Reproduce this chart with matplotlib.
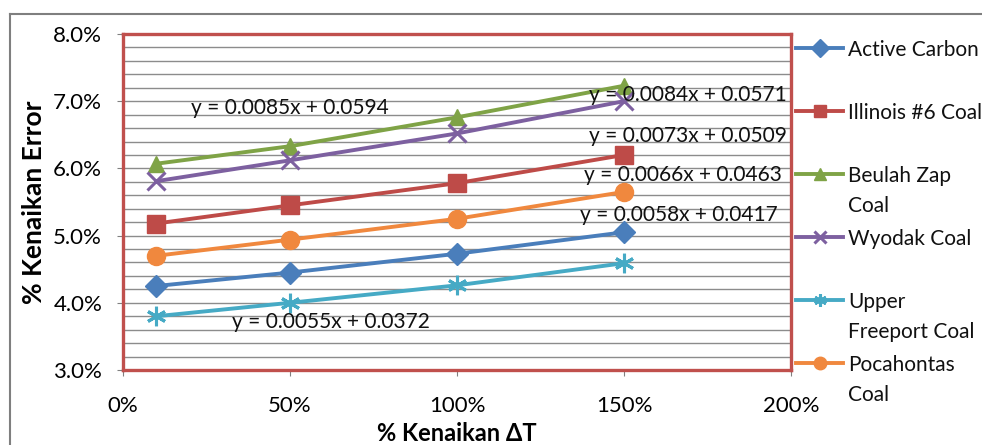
import matplotlib
matplotlib.use('Agg')
import matplotlib.pyplot as plt
import matplotlib.ticker as ticker
from matplotlib.lines import Line2D

plt.rcParams['font.family'] = ['Lato', 'DejaVu Sans']

# kenaikan delta T (fraction) and kenaikan error (fraction) per sample
dT = [0.10, 0.50, 1.00, 1.50]
names = ['Active Carbon', 'Illinois #6 Coal', 'Beulah Zap\nCoal', 'Wyodak Coal',
         'Upper\nFreeport Coal', 'Pocahontas\nCoal']
active_carbon = [0.0425, 0.0445, 0.0473, 0.0505]
illinois_6 = [0.0518, 0.0545, 0.0578, 0.0620]
beulah_zap = [0.0607, 0.0633, 0.0676, 0.0723]
wyodak = [0.0581, 0.0612, 0.0652, 0.0700]
upper_freeport = [0.0380, 0.0400, 0.0426, 0.0459]
pocahontas = [0.0470, 0.0494, 0.0525, 0.0565]

# trendline equations and where they are written
equations = ['y = 0.0058x + 0.0417', 'y = 0.0073x + 0.0509', 'y = 0.0085x + 0.0594',
             'y = 0.0084x + 0.0571', 'y = 0.0055x + 0.0372', 'y = 0.0066x + 0.0463']
eq_pos = [(1.665, 0.0531), (1.69, 0.0648), (0.50, 0.0690),
          (1.69, 0.0709), (0.623, 0.0371), (1.675, 0.0590)]

series = [active_carbon, illinois_6, beulah_zap, wyodak, upper_freeport, pocahontas]
colors = ['#4A7EBB', '#BE4B48', '#7FA346', '#7D60A0', '#46AAC5', '#F0883E']
markers = ['D', 's', '^', 'x', (6, 2, 0), 'o']
msizes = [11, 13, 12, 13, 14, 13]
edge_w = [1, 1, 1, 2.2, 2.2, 1]

W, H = 982, 445
fig = plt.figure(figsize=(W / 100, H / 100), dpi=100)
ax = fig.add_axes([123 / W, 1 - 370 / H, 668 / W, 336 / H])

for y, c, m, ms, ew in zip(series, colors, markers, msizes, edge_w):
    ax.plot(dT, y, color=c, lw=2.8, marker=m, markersize=ms,
            markerfacecolor=c, markeredgecolor=c, markeredgewidth=ew, zorder=3)

for txt, (x, y) in zip(equations, eq_pos):
    ax.text(x, y, txt, fontsize=15, ha='center', va='center', color='#111111', zorder=4)

ax.set_xlim(0, 2.0)
ax.set_ylim(0.03, 0.08)
ax.xaxis.set_major_locator(ticker.MultipleLocator(0.5))
ax.yaxis.set_major_locator(ticker.MultipleLocator(0.01))
ax.yaxis.set_minor_locator(ticker.MultipleLocator(0.002))
ax.xaxis.set_major_formatter(ticker.PercentFormatter(1.0, decimals=0))
ax.yaxis.set_major_formatter(ticker.PercentFormatter(1.0, decimals=1))
ax.grid(True, which='both', axis='y', color='#8C8C8C', lw=1.0)
ax.set_axisbelow(True)
ax.tick_params(axis='both', which='major', labelsize=16, direction='out', length=4,
               color='#808080')
ax.tick_params(axis='x', pad=15)
ax.tick_params(axis='y', pad=11)
ax.tick_params(axis='y', which='minor', length=0)
for sp in ax.spines.values():
    sp.set_color('#C0504D')
    sp.set_linewidth(2.4)

ax.set_xlabel('% Kenaikan ΔT', fontsize=17, fontweight='bold', labelpad=4)
ax.set_ylabel('% Kenaikan Error', fontsize=19, fontweight='bold', labelpad=5)

# legend entries down the right side, marker level with the first text line
for i, (name, c, m, ew) in enumerate(zip(names, colors, markers, edge_w)):
    yp = 48 + 63 * i
    yf = 1 - yp / H
    fig.add_artist(Line2D([796 / W, 843 / W], [yf, yf], color=c, lw=2.8))
    fig.add_artist(Line2D([820 / W], [yf], color=c, marker=m, markersize=9,
                          markerfacecolor=c, markeredgecolor=c, markeredgewidth=ew))
    for k, part in enumerate(name.split('\n')):
        fig.text(848 / W, 1 - (yp + 30 * k) / H, part, fontsize=15, ha='left',
                 va='center_baseline', color='#111111')

# outer chart border
fig.add_artist(Line2D([10 / W, 10 / W], [0, 1 - 14 / H], color='#7F7F7F', lw=1.5))
fig.add_artist(Line2D([10 / W, 1], [1 - 14 / H, 1 - 14 / H], color='#7F7F7F', lw=1.5))

fig.savefig('out.png', dpi=100)
